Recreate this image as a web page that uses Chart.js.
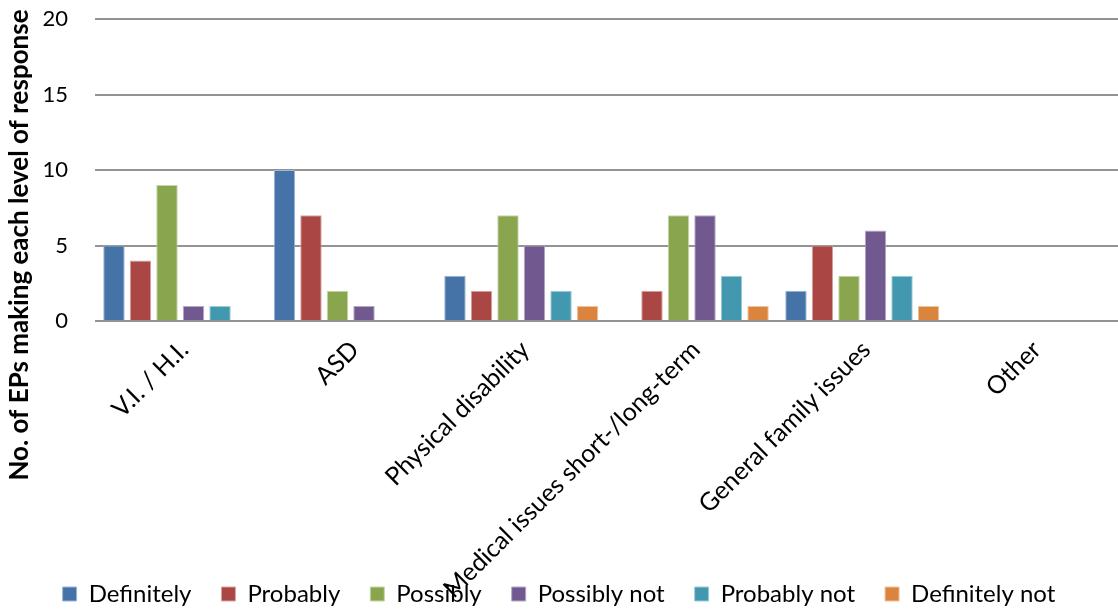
<!DOCTYPE html>
<html>
<head>
<meta charset="utf-8">
<script src="https://cdn.jsdelivr.net/npm/chart.js@4.4.1/dist/chart.umd.min.js"></script>
<style>
  html, body { margin: 0; padding: 0; background: #fff; overflow: hidden; }
  #wrap { width: 1118px; height: 610px; position: relative; }
</style>
</head>
<body>
<div id="wrap"><canvas id="chart" width="1118" height="610"></canvas></div>
<script>
// Categories along the x axis
const categories = [
  'V.I. / H.I.',
  'ASD',
  'Physical disability',
  'Medical issues short-/long-term',
  'General family issues',
  'Other'
];

// Number of EPs giving each level of response, per category
const definitely    = [5, 10, 3, 0, 2, 0];
const probably      = [4, 7, 2, 2, 5, 0];
const possibly      = [9, 2, 7, 7, 3, 0];
const possiblyNot   = [1, 1, 5, 7, 6, 0];
const probablyNot   = [1, 0, 2, 3, 3, 0];
const definitelyNot = [0, 0, 1, 1, 1, 0];

// Response levels (legend labels)
const levelNames = ['Definitely', 'Probably', 'Possibly', 'Possibly not', 'Probably not', 'Definitely not'];

// Value axis
const yMin = 0;
const yMax = 20;
const yStep = 5;
const yTitle = 'No. of EPs making each level of response';

const seriesData = [definitely, probably, possibly, possiblyNot, probablyNot, definitelyNot];
const fills   = ['#4572A7', '#AA4643', '#89A54E', '#71588F', '#4198AF', '#DB843D'];
const borders = ['#9fb6d6', '#d7a4a2', '#c6d6a8', '#b6a9c8', '#a0cdd8', '#efc29e'];

const FONT = 'Lato, "Open Sans", sans-serif';

// Rotated title on the left of the value axis
const yTitlePlugin = {
  id: 'yAxisTitle',
  afterDraw(chart) {
    const ctx = chart.ctx;
    ctx.save();
    ctx.translate(20, 245);
    ctx.rotate(-Math.PI / 2);
    ctx.font = 'bold 26px ' + FONT;
    ctx.fillStyle = '#000';
    ctx.textAlign = 'center';
    ctx.textBaseline = 'middle';
    ctx.fillText(yTitle, 0, 0);
    ctx.restore();
  }
};

// Long category labels run down past the legend row; let the x axis
// draw its labels all the way to the bottom edge instead of clipping them.
const xLabelRoomPlugin = {
  id: 'xLabelRoom',
  afterLayout(chart) {
    chart.scales.x.bottom = chart.height;
  }
};

function build() {
  const datasets = seriesData.map((values, i) => ({
    label: levelNames[i],
    data: values,
    backgroundColor: fills[i],
    borderColor: borders[i],
    borderWidth: 1,
    categoryPercentage: 0.933,
    barPercentage: 0.81
  }));

  new Chart(document.getElementById('chart'), {
    type: 'bar',
    data: { labels: categories, datasets },
    plugins: [yTitlePlugin, xLabelRoomPlugin],
    options: {
      responsive: false,
      devicePixelRatio: 1,
      animation: false,
      layout: { padding: { top: 19, left: 0, right: 0, bottom: -6 } },
      plugins: {
        tooltip: { enabled: false },
        legend: {
          position: 'bottom',
          labels: {
            boxWidth: 14,
            boxHeight: 14,
            padding: 30,
            color: '#000',
            font: { family: FONT, size: 24 }
          }
        }
      },
      scales: {
        x: {
          grid: { display: false, drawTicks: false },
          border: { display: false },
          ticks: {
            autoSkip: false,
            minRotation: 45,
            maxRotation: 45,
            padding: 14,
            labelOffset: 4,
            color: '#000',
            font: { family: FONT, size: 25 }
          },
          afterFit(scale) { scale.height = 231; }
        },
        y: {
          min: yMin,
          max: yMax,
          border: { display: false },
          grid: {
            color: '#939393',
            lineWidth: 2,
            drawTicks: true,
            tickLength: 27,
            tickColor: 'rgba(0,0,0,0)'
          },
          ticks: {
            stepSize: yStep,
            padding: 0,
            color: '#000',
            font: { family: FONT, size: 22 }
          },
          afterFit(scale) { scale.width = 95; }
        }
      }
    }
  });
}

if (document.fonts && document.fonts.load) {
  Promise.all([
    document.fonts.load('22px Lato'),
    document.fonts.load('bold 26px Lato')
  ]).then(build, build);
} else {
  build();
}
</script>
</body>
</html>
